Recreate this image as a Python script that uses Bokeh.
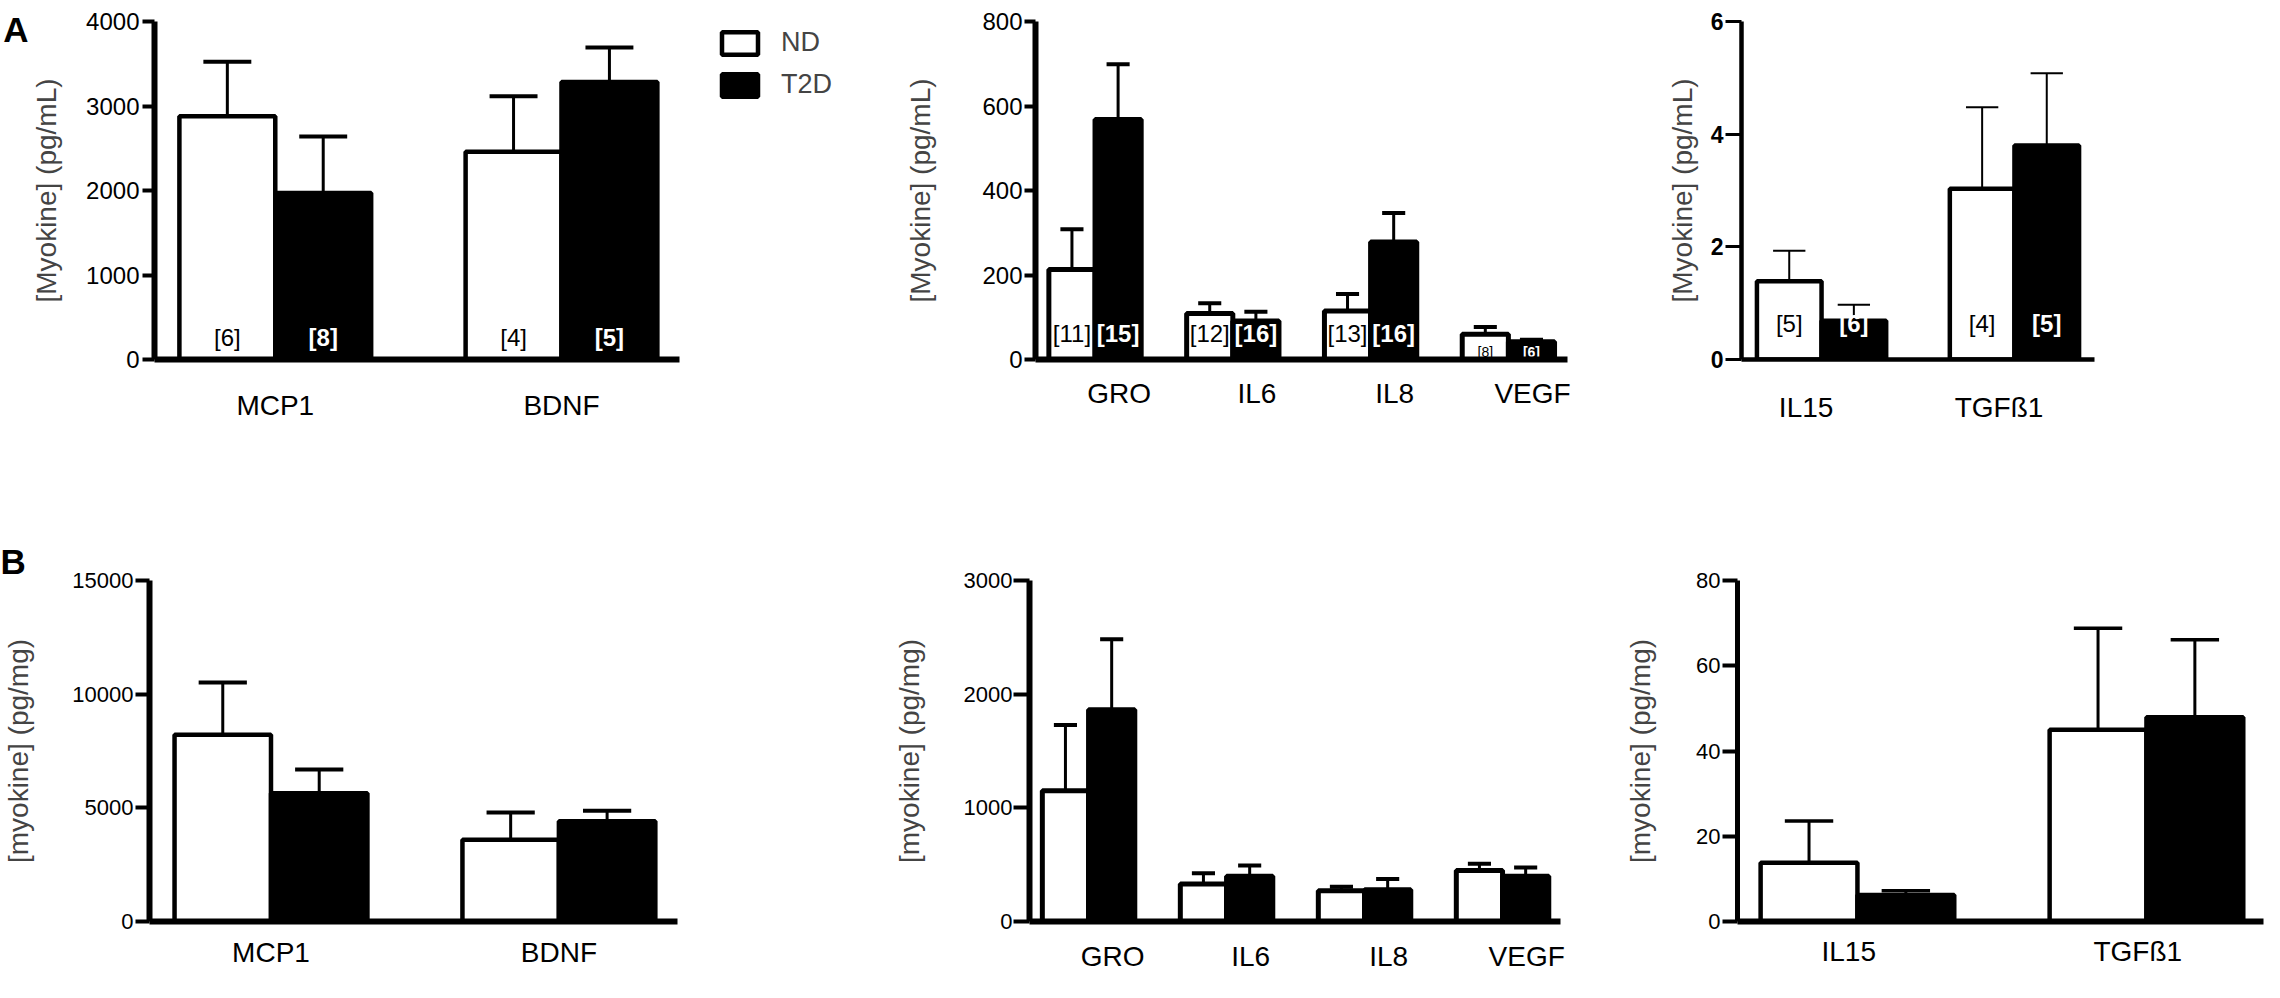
from bokeh.plotting import figure
from bokeh.models import (ColumnDataSource, FixedTicker, Range1d, Legend, LegendItem,
                          LinearAxis, Title)
from bokeh.layouts import column, row
from bokeh.core.properties import value
from bokeh.embed import file_html
from bokeh.resources import INLINE

FONT = "Liberation Sans"

# ------------------------------------------------------------------ data
# Panel A: plasma myokines (pg/mL)
a1_cats = ["MCP1", "BDNF"]
a1_nd = [2880, 2460]
a1_nd_sem = [645, 655]
a1_t2d = [1970, 3285]
a1_t2d_sem = [670, 407]
a1_nd_n = ["[6]", "[4]"]
a1_t2d_n = ["[8]", "[5]"]
a1_yticks = [0, 1000, 2000, 3000, 4000]

a2_cats = ["GRO", "IL6", "IL8", "VEGF"]
a2_nd = [213, 109, 115, 60]
a2_nd_sem = [95, 24, 40, 17]
a2_t2d = [568, 91, 278, 42]
a2_t2d_sem = [131, 22, 69, 5]
a2_nd_n = ["[11]", "[12]", "[13]", "[8]"]
a2_t2d_n = ["[15]", "[16]", "[16]", "[6]"]
a2_yticks = [0, 200, 400, 600, 800]

a3_cats = ["IL15", "TGFß1"]
a3_nd = [1.39, 3.03]
a3_nd_sem = [0.54, 1.45]
a3_t2d = [0.69, 3.80]
a3_t2d_sem = [0.28, 1.28]
a3_nd_n = ["[5]", "[4]"]
a3_t2d_n = ["[6]", "[5]"]
a3_yticks = [0, 2, 4, 6]

# Panel B: tissue myokines (pg/mg)
b1_cats = ["MCP1", "BDNF"]
b1_nd = [8220, 3600]
b1_nd_sem = [2290, 1190]
b1_t2d = [5640, 4410]
b1_t2d_sem = [1050, 460]
b1_yticks = [0, 5000, 10000, 15000]

b2_cats = ["GRO", "IL6", "IL8", "VEGF"]
b2_nd = [1150, 330, 271, 449]
b2_nd_sem = [578, 94, 34, 59]
b2_t2d = [1864, 398, 280, 398]
b2_t2d_sem = [619, 94, 93, 77]
b2_yticks = [0, 1000, 2000, 3000]

b3_cats = ["IL15", "TGFß1"]
b3_nd = [13.8, 45.0]
b3_nd_sem = [9.8, 23.8]
b3_t2d = [6.2, 47.9]
b3_t2d_sem = [1.0, 18.2]
b3_yticks = [0, 20, 40, 60, 80]

series_names = ["ND", "T2D"]
panel_letters = ["A", "B"]
ylab_a = "[Myokine] (pg/mL)"
ylab_b = "[myokine] (pg/mg)"

# ------------------------------------------------------------------ layout / style
BW = 0.335  # bar width in group units


def make_panel(cats, nd, nd_sem, t2d, t2d_sem, yticks, ylabel, fig_box, frame_box,
               xr, shift, st, nd_n=None, t2d_n=None, n_sizes=None, n_offs=None,
               x_bounds=None):
    gx0, gy0, gx1, gy1 = fig_box
    fl, fr, ft, fb = frame_box
    p = figure(width=gx1 - gx0, height=gy1 - gy0,
               x_range=Range1d(xr[0], xr[1]), y_range=Range1d(yticks[0], yticks[-1]),
               output_backend="svg", toolbar_location=None,
               min_border_left=fl - gx0, min_border_right=gx1 - fr,
               min_border_top=ft - gy0, min_border_bottom=gy1 - fb)
    p.outline_line_color = None
    p.grid.visible = False
    p.background_fill_color = "white"
    p.border_fill_color = "white"

    n = len(cats)
    ctr = [i - shift for i in range(n)]
    x_nd = [c - BW / 2 for c in ctr]
    x_t2d = [c + BW / 2 for c in ctr]

    r_nd = p.vbar(x=x_nd, top=nd, bottom=0, width=BW, fill_color="white",
                  line_color="black", line_width=st["bar_lw"])
    r_t2d = p.vbar(x=x_t2d, top=t2d, bottom=0, width=BW, fill_color="black",
                   line_color="black", line_width=st["bar_lw"])

    for xs, m, s in ((x_nd, nd, nd_sem), (x_t2d, t2d, t2d_sem)):
        up = [a + b for a, b in zip(m, s)]
        p.segment(x0=xs, y0=m, x1=xs, y1=up, line_color="black", line_width=st["wh_lw"])
        p.segment(x0=[x - BW / 4 for x in xs], y0=up, x1=[x + BW / 4 for x in xs], y1=up,
                  line_color="black", line_width=st["cap_lw"])

    if nd_n is not None:
        for xs, labs, col, sty in ((x_nd, nd_n, "black", "normal"), (x_t2d, t2d_n, "white", "bold")):
            src = ColumnDataSource(dict(x=xs, y=[0] * n, t=labs, fs=n_sizes, off=n_offs))
            p.text(x="x", y="y", text="t", source=src, text_font=value(FONT),
                   text_font_size="fs", y_offset="off", text_color=col,
                   text_font_style=sty, text_align="center", text_baseline="middle")

    ya = p.yaxis[0]
    ya.ticker = FixedTicker(ticks=yticks)
    ya.axis_label = ylabel
    ya.axis_label_text_font = FONT
    ya.axis_label_text_font_size = "28px"
    ya.axis_label_text_font_style = "normal"
    ya.axis_label_standoff = st["yl_standoff"]
    ya.major_label_text_font = FONT
    ya.major_label_text_font_size = st["tick_fs"]
    ya.major_label_text_font_style = st.get("tick_style", "normal")
    ya.major_label_text_color = "black"
    ya.major_label_standoff = st["tk_standoff"]
    ya.axis_line_width = st["yaxis_lw"]
    ya.axis_line_color = "black"
    ya.major_tick_line_width = st["tick_lw"]
    ya.major_tick_line_color = "black"
    ya.major_tick_out = st["tick_out"]
    ya.major_tick_in = 0
    ya.minor_tick_line_color = None

    xa = p.xaxis[0]
    xa.ticker = FixedTicker(ticks=list(range(n)))
    xa.major_label_overrides = {i: c for i, c in enumerate(cats)}
    xa.major_label_text_font = FONT
    xa.major_label_text_font_size = "28px"
    xa.major_label_text_color = "black"
    xa.major_label_standoff = st["xl_standoff"]
    xa.axis_line_width = st["xaxis_lw"]
    xa.axis_line_color = "black"
    xa.major_tick_line_color = None
    xa.major_tick_out = 0
    xa.major_tick_in = 0
    xa.minor_tick_line_color = None
    if x_bounds is not None:
        xa.bounds = x_bounds
    return p, r_nd, r_t2d


A1 = dict(bar_lw=4.5, wh_lw=3, cap_lw=4, yaxis_lw=6, tick_lw=4, xaxis_lw=6, tick_out=12,
          tk_standoff=3, yl_standoff=21, xl_standoff=30, tick_fs="24px")
A2 = dict(bar_lw=5, wh_lw=3, cap_lw=4, yaxis_lw=6, tick_lw=4, xaxis_lw=6, tick_out=11,
          tk_standoff=2, yl_standoff=43, xl_standoff=18, tick_fs="24px")
A3 = dict(bar_lw=4.5, wh_lw=2, cap_lw=2, yaxis_lw=4.5, tick_lw=3, xaxis_lw=4.5, tick_out=16,
          tk_standoff=2, yl_standoff=10, xl_standoff=32, tick_style="bold", tick_fs="23px")
B1 = dict(bar_lw=4.5, wh_lw=3, cap_lw=4, yaxis_lw=6, tick_lw=4, xaxis_lw=6, tick_out=14,
          tk_standoff=2, yl_standoff=35, xl_standoff=15, tick_fs="22px")
B2 = dict(bar_lw=5, wh_lw=3, cap_lw=4, yaxis_lw=6, tick_lw=4, xaxis_lw=6, tick_out=16,
          tk_standoff=1, yl_standoff=36, xl_standoff=19, tick_fs="22px")
B3 = dict(bar_lw=4.5, wh_lw=3, cap_lw=3.5, yaxis_lw=5, tick_lw=4, xaxis_lw=6, tick_out=15,
          tk_standoff=2, yl_standoff=37, xl_standoff=14, tick_fs="22px")

# A1's frame extends to the right so that the ND/T2D legend sits inside it;
# the x-axis line is bounded to the bars' region.
A1_SPAN = 289.0  # px per group
pa1, nd_r, t2d_r = make_panel(a1_cats, a1_nd, a1_nd_sem, a1_t2d, a1_t2d_sem, a1_yticks, ylab_a,
                              (8, 8, 880, 478), (155, 880, 14, 367),
                              (-0.422, -0.422 + (880 - 155) / A1_SPAN), 0.0, A1,
                              a1_nd_n, a1_t2d_n, ["24px"] * 2, [-22] * 2,
                              x_bounds=(-0.422, 1.412))
pa2, _, _ = make_panel(a2_cats, a2_nd, a2_nd_sem, a2_t2d, a2_t2d_sem, a2_yticks, ylab_a,
                       (880, 8, 1640, 478), (1043, 1575, 29, 382), (-0.607, 3.254), 0.175, A2,
                       a2_nd_n, a2_t2d_n, ["24px", "24px", "24px", "14px"], [-26, -26, -26, -8])
pa3, _, _ = make_panel(a3_cats, a3_nd, a3_nd_sem, a3_t2d, a3_t2d_sem, a3_yticks, ylab_a,
                       (1640, 8, 2272, 478), (1749, 2102, 17, 371), (-0.335, 1.495), -0.08, A3,
                       a3_nd_n, a3_t2d_n, ["24px"] * 2, [-36] * 2)
pb1, _, _ = make_panel(b1_cats, b1_nd, b1_nd_sem, b1_t2d, b1_t2d_sem, b1_yticks, ylab_b,
                       (8, 478, 880, 990), (155, 685, 588, 942), (-0.422, 1.412), 0.0, B1)
pb2, _, _ = make_panel(b2_cats, b2_nd, b2_nd_sem, b2_t2d, b2_t2d_sem, b2_yticks, ylab_b,
                       (880, 478, 1620, 990), (1037, 1568, 584, 938), (-0.603, 3.245), 0.175, B2)
pb3, _, _ = make_panel(b3_cats, b3_nd, b3_nd_sem, b3_t2d, b3_t2d_sem, b3_yticks, ylab_b,
                       (1620, 478, 2272, 990), (1745, 2271, 576, 929), (-0.385, 1.435), -0.03, B3)

# legend (ND / T2D), inside A1's (extended) frame
legend = Legend(items=[LegendItem(label=series_names[0], renderers=[nd_r]),
                       LegendItem(label=series_names[1], renderers=[t2d_r])],
                location=(563, 259))
legend.glyph_width = 45
legend.glyph_height = 28
legend.label_text_font = FONT
legend.label_text_font_size = "27px"
legend.label_standoff = 19
legend.spacing = 11
legend.padding = 0
legend.margin = 0
legend.border_line_color = None
legend.background_fill_alpha = 0
pa1.add_layout(legend)

# panel letter "A": outermost left axis carrying a single bold label
LETTER_Y_A = 3900
letter_axis = LinearAxis(ticker=FixedTicker(ticks=[LETTER_Y_A]),
                         major_label_overrides={LETTER_Y_A: panel_letters[0]})
letter_axis.axis_line_color = None
letter_axis.major_tick_line_color = None
letter_axis.minor_tick_line_color = None
letter_axis.major_tick_out = 0
letter_axis.major_tick_in = 0
letter_axis.major_label_standoff = 0
letter_axis.major_label_text_font = FONT
letter_axis.major_label_text_font_size = "35px"
letter_axis.major_label_text_font_style = "bold"
letter_axis.major_label_text_color = "black"
pa1.add_layout(letter_axis, "left")

# panel letter "B": title above B1, shifted to the page's left edge
pb1.add_layout(Title(text=panel_letters[1], align="left", offset=-149, standoff=0,
                     text_font=FONT, text_font_size="35px", text_font_style="bold",
                     text_color="black"), "above")

layout = column(row(pa1, pa2, pa3), row(pb1, pb2, pb3))

with open("out.html", "w") as f:
    f.write(file_html(layout, INLINE))
